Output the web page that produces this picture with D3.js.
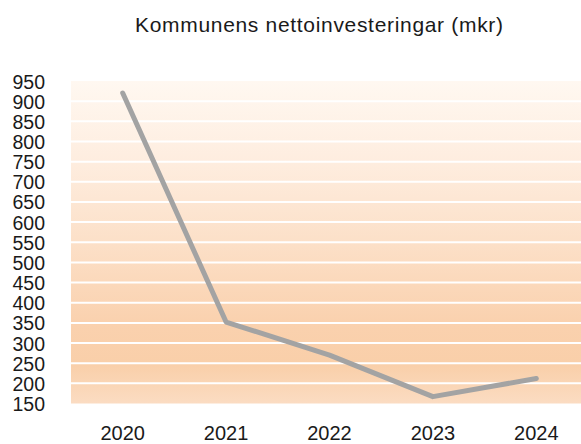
<!DOCTYPE html>
<html>
<head>
<meta charset="utf-8">
<script src="https://cdn.jsdelivr.net/npm/d3@7"></script>
<style>
  html, body { margin: 0; padding: 0; background: #ffffff; }
  svg { display: block; }
  text { font-family: "Liberation Sans", Arial, sans-serif; fill: #1a1a1a; }
</style>
</head>
<body>
<svg id="chart" width="581" height="444"></svg>
<script>
// Net investments per year (mkr)
const years = ["2020", "2021", "2022", "2023", "2024"];
const investments = [920, 352, 270, 167, 212];
const yTicks = [150, 200, 250, 300, 350, 400, 450, 500, 550, 600, 650, 700, 750, 800, 850, 900, 950];
const title = "Kommunens nettoinvesteringar (mkr)";

const svg = d3.select("#chart");
const plot = { left: 71, right: 588, top: 81, bottom: 403.5 };

const x = d3.scaleBand().domain(years).range([plot.left, plot.right]).padding(0);
const y = d3.scaleLinear().domain([150, 950]).range([plot.bottom, plot.top]);

// Vertical background gradient of the plot area
const defs = svg.append("defs");
const grad = defs.append("linearGradient")
  .attr("id", "bg").attr("x1", 0).attr("y1", 0).attr("x2", 0).attr("y2", 1);
[
  [0.00, "#fff8f1"],
  [0.25, "#feeddf"],
  [0.50, "#fce0c8"],
  [0.75, "#fad1ae"],
  [0.88, "#f9cfa9"],
  [1.00, "#fbdcc2"]
].forEach(([o, c]) => grad.append("stop").attr("offset", o).attr("stop-color", c));

svg.append("rect")
  .attr("x", plot.left).attr("y", plot.top)
  .attr("width", plot.right - plot.left).attr("height", plot.bottom - plot.top)
  .attr("fill", "url(#bg)");

// White horizontal gridlines
svg.append("g")
  .selectAll("line")
  .data(yTicks.filter(v => v > 150 && v < 950))
  .join("line")
  .attr("x1", plot.left).attr("x2", plot.right)
  .attr("y1", d => y(d)).attr("y2", d => y(d))
  .attr("stroke", "#ffffff").attr("stroke-width", 2);

// Y axis labels
const yAxis = d3.axisLeft(y).tickValues(yTicks).tickSize(0).tickPadding(0).tickFormat(d3.format("d"));
const gy = svg.append("g").attr("transform", `translate(45,0)`).call(yAxis);
gy.select(".domain").remove();
gy.selectAll("text")
  .attr("font-size", "19.5px")
  .attr("font-family", "'Liberation Sans', Arial, sans-serif")
  .attr("fill", "#1a1a1a")
  .attr("dy", "0.36em");

// X axis labels
const xAxis = d3.axisBottom(x).tickSize(0).tickPadding(0);
const gx = svg.append("g").attr("transform", `translate(0,440)`).call(xAxis);
gx.select(".domain").remove();
gx.selectAll("text")
  .attr("font-size", "20px")
  .attr("font-family", "'Liberation Sans', Arial, sans-serif")
  .attr("fill", "#1a1a1a")
  .attr("dy", 0)
  .attr("y", 0);

// Data line
const line = d3.line()
  .x((d, i) => x(years[i]) + x.bandwidth() / 2)
  .y(d => y(d));

svg.append("path")
  .datum(investments)
  .attr("d", line)
  .attr("fill", "none")
  .attr("stroke", "#a3a3a3")
  .attr("stroke-width", 5)
  .attr("stroke-linejoin", "round")
  .attr("stroke-linecap", "round");

// Title
svg.append("text")
  .attr("x", 319).attr("y", 31.5)
  .attr("text-anchor", "middle")
  .attr("font-size", "21px")
  .attr("textLength", 368)
  .attr("lengthAdjust", "spacing")
  .attr("fill", "#1a1a1a")
  .text(title);
</script>
</body>
</html>
